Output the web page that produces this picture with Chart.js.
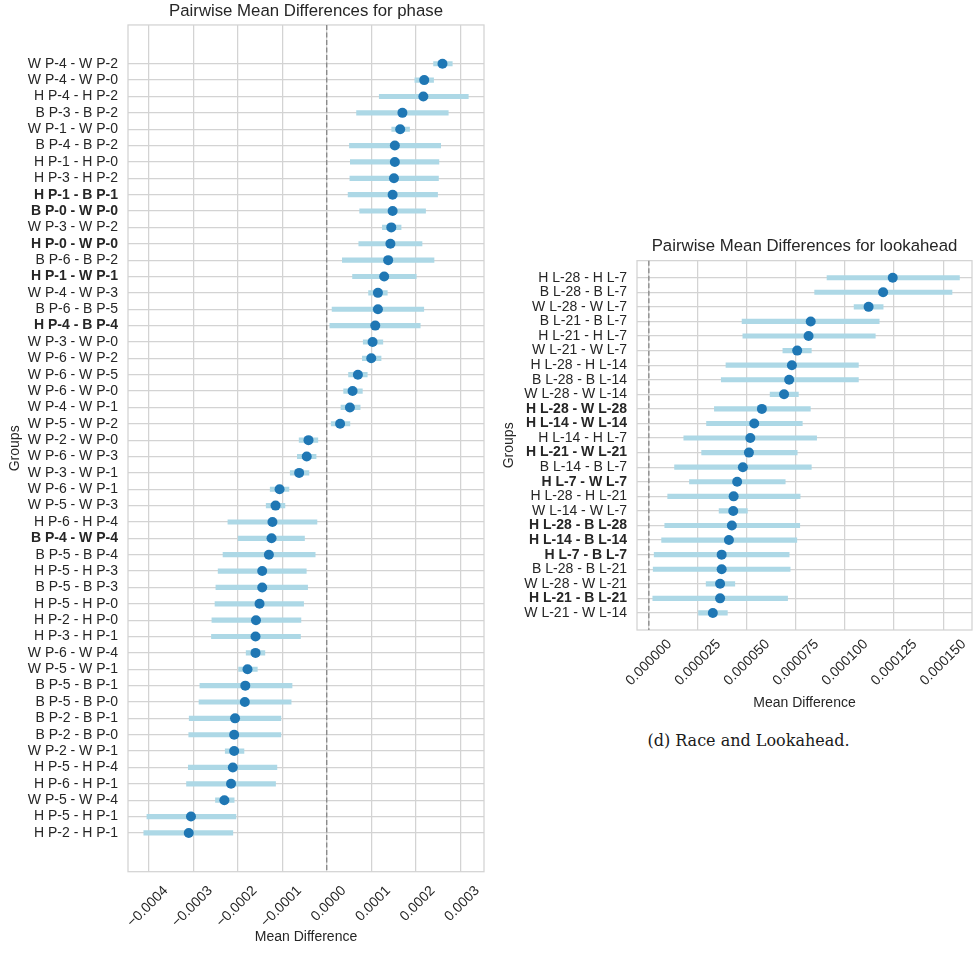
<!DOCTYPE html>
<html>
<head>
<meta charset="utf-8">
<script src="https://cdn.jsdelivr.net/npm/chart.js@4.4.1/dist/chart.umd.min.js"></script>
<style>
  body { margin: 0; background: #fff; }
  #page { position: relative; width: 977px; height: 956px; overflow: hidden; }
  #phaseChart { position: absolute; left: 0; top: 0; }
  #lookChart { position: absolute; left: 490px; top: 225px; }
  #caption {
    position: absolute; left: 600px; width: 297px; top: 731px;
    text-align: center; font: 16px "DejaVu Serif", serif; color: #1a1a1a;
  }
</style>
</head>
<body>
<div id="page">
  <canvas id="phaseChart" width="490" height="956"></canvas>
  <canvas id="lookChart" width="487" height="495"></canvas>
  <div id="caption">(d) Race and Lookahead.</div>
</div>
<script>
// phase comparisons, top to bottom
const phaseGroups = [
  "W P-4 - W P-2", "W P-4 - W P-0", "H P-4 - H P-2", "B P-3 - B P-2", "W P-1 - W P-0",
  "B P-4 - B P-2", "H P-1 - H P-0", "H P-3 - H P-2", "H P-1 - B P-1", "B P-0 - W P-0",
  "W P-3 - W P-2", "H P-0 - W P-0", "B P-6 - B P-2", "H P-1 - W P-1", "W P-4 - W P-3",
  "B P-6 - B P-5", "H P-4 - B P-4", "W P-3 - W P-0", "W P-6 - W P-2", "W P-6 - W P-5",
  "W P-6 - W P-0", "W P-4 - W P-1", "W P-5 - W P-2", "W P-2 - W P-0", "W P-6 - W P-3",
  "W P-3 - W P-1", "W P-6 - W P-1", "W P-5 - W P-3", "H P-6 - H P-4", "B P-4 - W P-4",
  "B P-5 - B P-4", "H P-5 - H P-3", "B P-5 - B P-3", "H P-5 - H P-0", "H P-2 - H P-0",
  "H P-3 - H P-1", "W P-6 - W P-4", "W P-5 - W P-1", "B P-5 - B P-1", "B P-5 - B P-0",
  "B P-2 - B P-1", "B P-2 - B P-0", "W P-2 - W P-1", "H P-5 - H P-4", "H P-6 - H P-1",
  "W P-5 - W P-4", "H P-5 - H P-1", "H P-2 - H P-1"
];
const phaseMeans = [
  2.60e-4, 2.19e-4, 2.17e-4, 1.70e-4, 1.65e-4, 1.53e-4, 1.53e-4, 1.51e-4, 1.48e-4, 1.48e-4,
  1.45e-4, 1.43e-4, 1.38e-4, 1.29e-4, 1.15e-4, 1.15e-4, 1.09e-4, 1.03e-4, 1.00e-4, 0.70e-4,
  0.58e-4, 0.52e-4, 0.30e-4, -0.41e-4, -0.45e-4, -0.62e-4, -1.06e-4, -1.15e-4, -1.22e-4, -1.24e-4,
  -1.30e-4, -1.45e-4, -1.45e-4, -1.51e-4, -1.59e-4, -1.60e-4, -1.60e-4, -1.78e-4, -1.83e-4, -1.84e-4,
  -2.06e-4, -2.08e-4, -2.08e-4, -2.11e-4, -2.15e-4, -2.30e-4, -3.05e-4, -3.10e-4
];
const phaseLow = [
  2.40e-4, 1.98e-4, 1.18e-4, 0.67e-4, 1.46e-4, 0.51e-4, 0.53e-4, 0.52e-4, 0.48e-4, 0.74e-4,
  1.25e-4, 0.72e-4, 0.35e-4, 0.58e-4, 0.94e-4, 0.12e-4, 0.07e-4, 0.82e-4, 0.80e-4, 0.49e-4,
  0.38e-4, 0.32e-4, 0.10e-4, -0.62e-4, -0.66e-4, -0.82e-4, -1.27e-4, -1.36e-4, -2.22e-4, -1.99e-4,
  -2.33e-4, -2.44e-4, -2.49e-4, -2.51e-4, -2.58e-4, -2.59e-4, -1.81e-4, -1.98e-4, -2.85e-4, -2.87e-4,
  -3.09e-4, -3.10e-4, -2.28e-4, -3.11e-4, -3.15e-4, -2.50e-4, -4.04e-4, -4.11e-4
];
const phaseHigh = [
  2.82e-4, 2.40e-4, 3.18e-4, 2.73e-4, 1.86e-4, 2.56e-4, 2.52e-4, 2.51e-4, 2.49e-4, 2.22e-4,
  1.67e-4, 2.14e-4, 2.41e-4, 2.01e-4, 1.36e-4, 2.18e-4, 2.10e-4, 1.26e-4, 1.22e-4, 0.91e-4,
  0.80e-4, 0.75e-4, 0.52e-4, -0.20e-4, -0.24e-4, -0.40e-4, -0.85e-4, -0.94e-4, -0.22e-4, -0.50e-4,
  -0.26e-4, -0.46e-4, -0.43e-4, -0.52e-4, -0.58e-4, -0.59e-4, -1.39e-4, -1.56e-4, -0.78e-4, -0.80e-4,
  -1.03e-4, -1.03e-4, -1.86e-4, -1.12e-4, -1.15e-4, -2.08e-4, -2.04e-4, -2.11e-4
];
const phaseTickValues = [-0.0004, -0.0003, -0.0002, -0.0001, 0, 0.0001, 0.0002, 0.0003];
const phaseTickLabels = ["\u22120.0004", "\u22120.0003", "\u22120.0002", "\u22120.0001", "0.0000", "0.0001", "0.0002", "0.0003"];

// lookahead comparisons, top to bottom
const lookGroups = [
  "H L-28 - H L-7", "B L-28 - B L-7", "W L-28 - W L-7", "B L-21 - B L-7", "H L-21 - H L-7",
  "W L-21 - W L-7", "H L-28 - H L-14", "B L-28 - B L-14", "W L-28 - W L-14", "H L-28 - W L-28",
  "H L-14 - W L-14", "H L-14 - H L-7", "H L-21 - W L-21", "B L-14 - B L-7", "H L-7 - W L-7",
  "H L-28 - H L-21", "W L-14 - W L-7", "H L-28 - B L-28", "H L-14 - B L-14", "H L-7 - B L-7",
  "B L-28 - B L-21", "W L-28 - W L-21", "H L-21 - B L-21", "W L-21 - W L-14"
];
const lookMeans = [
  124.3e-6, 119.4e-6, 112.0e-6, 82.5e-6, 81.4e-6, 75.6e-6, 72.9e-6, 71.5e-6, 68.9e-6, 57.6e-6,
  53.7e-6, 51.7e-6, 51.0e-6, 47.9e-6, 45.0e-6, 43.2e-6, 43.0e-6, 42.3e-6, 40.8e-6, 37.1e-6,
  37.1e-6, 36.3e-6, 36.3e-6, 32.6e-6
];
const lookLow = [
  90.8e-6, 84.5e-6, 104.6e-6, 47.5e-6, 47.9e-6, 68.3e-6, 39.3e-6, 36.9e-6, 61.8e-6, 33.4e-6,
  29.4e-6, 17.8e-6, 26.9e-6, 13.1e-6, 20.7e-6, 9.6e-6, 35.8e-6, 8.1e-6, 6.5e-6, 2.7e-6,
  2.2e-6, 29.2e-6, 2.0e-6, 25.3e-6
];
const lookHigh = [
  158.3e-6, 154.5e-6, 119.4e-6, 117.4e-6, 115.4e-6, 82.8e-6, 106.8e-6, 106.8e-6, 76.2e-6, 82.3e-6,
  78.2e-6, 85.5e-6, 75.6e-6, 82.8e-6, 69.5e-6, 77.1e-6, 50.2e-6, 76.9e-6, 75.4e-6, 71.5e-6,
  72.0e-6, 43.8e-6, 70.7e-6, 40.0e-6
];
const lookTickValues = [0, 25e-6, 50e-6, 75e-6, 100e-6, 125e-6, 150e-6];
const lookTickLabels = ["0.000000", "0.000025", "0.000050", "0.000075", "0.000100", "0.000125", "0.000150"];

const ZERO_LINE = 0;
const FONT = "'Liberation Sans', Arial, sans-serif";
const TEXT = "#262626";
const GRID = "#d3d3d3";

// cross-race comparisons (different first letter) are bold
function isCross(label) {
  const parts = label.split(" - ");
  return parts[0][0] !== parts[1][0];
}

const framePlugin = {
  id: "frame",
  beforeDatasetsDraw(chart) {
    const { ctx, chartArea: a, scales: { x } } = chart;
    ctx.save();
    ctx.strokeStyle = GRID;
    ctx.lineWidth = 1.25;
    ctx.strokeRect(a.left, a.top, a.width, a.height);
    const zx = x.getPixelForValue(ZERO_LINE);
    ctx.strokeStyle = "#808080";
    ctx.lineWidth = 1.2;
    ctx.setLineDash([5, 2.5]);
    ctx.beginPath();
    ctx.moveTo(zx, a.top);
    ctx.lineTo(zx, a.bottom);
    ctx.stroke();
    ctx.restore();
  }
};

function buildChart(id, o) {
  const n = o.groups.length;
  return new Chart(document.getElementById(id), {
    type: "bar",
    data: {
      datasets: [
        {
          type: "scatter",
          data: o.means.map((m, i) => ({ x: m, y: i })),
          backgroundColor: "#1f77b4",
          borderWidth: 0,
          pointRadius: o.dot,
          order: 0
        },
        {
          type: "bar",
          data: o.low.map((lo, i) => ({ x: [lo, o.high[i]], y: i })),
          backgroundColor: "#add8e6",
          borderWidth: 0,
          barThickness: 4.5,
          order: 1
        }
      ]
    },
    options: {
      indexAxis: "y",
      responsive: false,
      animation: false,
      layout: { padding: { left: 0, right: o.padRight, top: 0, bottom: 0 } },
      plugins: {
        legend: { display: false },
        tooltip: { enabled: false },
        title: {
          display: true,
          text: o.title,
          fullSize: false,
          color: TEXT,
          font: { family: FONT, size: 16.8, weight: "normal" },
          padding: o.titlePad
        }
      },
      scales: {
        x: {
          type: "linear",
          min: o.xMin,
          max: o.xMax,
          offset: false,
          afterBuildTicks: s => { s.ticks = o.tickValues.map(v => ({ value: v })); },
          afterFit: s => { s.height = o.xHeight; },
          grid: { color: GRID, lineWidth: 1.25, drawTicks: false, offset: false },
          border: { display: false },
          ticks: {
            autoSkip: false,
            minRotation: 45,
            maxRotation: 45,
            padding: o.xTickPad,
            labelOffset: o.labelOffset,
            color: TEXT,
            font: { family: FONT, size: 14 },
            callback: (v, i) => o.tickLabels[i]
          },
          title: {
            display: true,
            text: "Mean Difference",
            color: TEXT,
            font: { family: FONT, size: 14 },
            padding: { top: 0, bottom: o.xTitlePad }
          }
        },
        y: {
          type: "linear",
          reverse: true,
          offset: false,
          min: -o.padRows,
          max: n - 1 + o.padRows,
          afterBuildTicks: s => { s.ticks = o.groups.map((g, i) => ({ value: i })); },
          afterFit: s => { s.width = o.yWidth; },
          grid: { color: GRID, lineWidth: 1.25, drawTicks: false, offset: false },
          border: { display: false },
          ticks: {
            autoSkip: false,
            padding: 10,
            color: TEXT,
            font: ctx => ({
              family: FONT,
              size: 14,
              weight: ctx.tick && isCross(o.groups[ctx.tick.value]) ? "bold" : "normal"
            }),
            callback: v => o.groups[v]
          },
          title: {
            display: true,
            text: "Groups",
            color: TEXT,
            font: { family: FONT, size: 14 },
            padding: { top: o.yTitlePad, bottom: 0 }
          }
        }
      }
    },
    plugins: [framePlugin]
  });
}

buildChart("phaseChart", {
  title: "Pairwise Mean Differences for phase",
  groups: phaseGroups, means: phaseMeans, low: phaseLow, high: phaseHigh,
  tickValues: phaseTickValues, tickLabels: phaseTickLabels,
  xMin: -0.0004465, xMax: 0.0003533, padRows: 2.37,
  dot: 5, padRight: 6, yWidth: 128, xHeight: 84.3,
  titlePad: { top: 1.6, bottom: 3.2 },
  xTickPad: 11, labelOffset: 17, xTitlePad: 10.3, yTitlePad: 6.9
});

buildChart("lookChart", {
  title: "Pairwise Mean Differences for lookahead",
  groups: lookGroups, means: lookMeans, low: lookLow, high: lookHigh,
  tickValues: lookTickValues, tickLabels: lookTickLabels,
  xMin: -6.05e-6, xMax: 164.7e-6, padRows: 1.17,
  dot: 5, padRight: 1, yWidth: 147, xHeight: 90,
  titlePad: { top: 11.4, bottom: 4.1 },
  xTickPad: 6, labelOffset: 20.6, xTitlePad: 8.9, yTitlePad: 11.1
});
</script>
</body>
</html>
